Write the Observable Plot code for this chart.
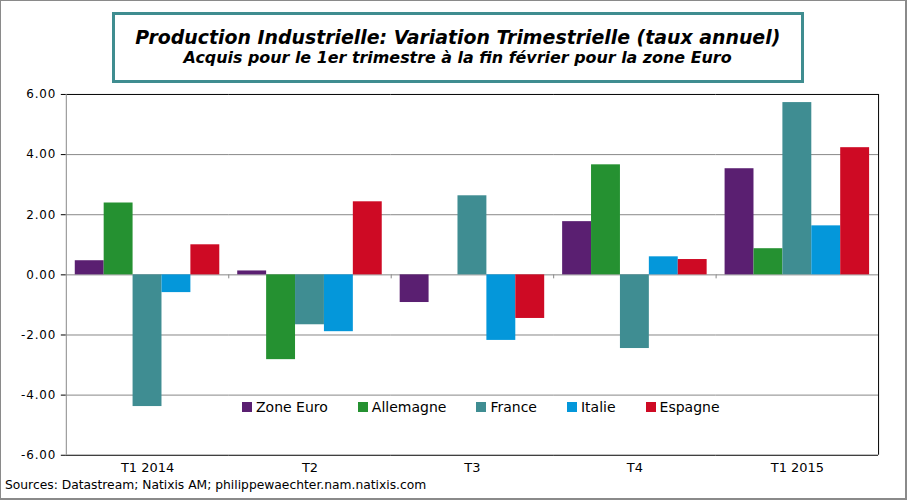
<!DOCTYPE html>
<html>
<head>
<meta charset="utf-8">
<script src="https://cdn.jsdelivr.net/npm/d3@7"></script>
<script src="https://cdn.jsdelivr.net/npm/@observablehq/plot@0.6"></script>
<style>
  body { margin: 0; background: #fff; }
  #wrap { position: relative; width: 907px; height: 500px; box-sizing: border-box; border: 1px solid #8a8a8a; border-right-width: 2px; border-bottom-width: 2px; overflow: hidden; font-family: "DejaVu Sans", Verdana, sans-serif; }
  #titlebar { height: 83px; position: relative; }
  #titlebox { position: absolute; left: 111px; top: 11px; width: 692px; height: 71px; box-sizing: border-box; border: 3px solid #3f8d90; text-align: center; font-family: "DejaVu Sans Condensed", "DejaVu Sans", sans-serif; font-style: italic; font-weight: bold; color: #000; }
  #t1 { font-size: 19px; margin-top: 10px; line-height: 24px; white-space: nowrap; }
  #t2 { font-size: 15px; margin-top: 0px; line-height: 18px; white-space: nowrap; }
  #t1 span, #t2 span { display: inline-block; transform-origin: center; }
  #legend { position: absolute; top: 398px; left: 241px; display: flex; gap: 30px; font-family: "DejaVu Sans", Verdana, sans-serif; font-size: 14px; color: #000; }
  #legend .it { display: flex; align-items: center; gap: 4px; }
  #legend .sw { width: 10px; height: 10px; display: inline-block; }
  #source { position: absolute; left: 4px; top: 477px; font-family: "DejaVu Sans", sans-serif; font-size: 12.3px; color: #000; white-space: nowrap; }
  svg [aria-label="y-axis tick"] { stroke: #888; }
  svg [aria-label="y-axis tick label"] { letter-spacing: 0.9px; }
  svg [aria-label="fx-axis tick label"] { font-size: 13px; }
</style>
</head>
<body>
<div id="wrap">
  <div id="titlebar">
    <div id="titlebox">
      <div id="t1"><span>Production Industrielle: Variation Trimestrielle (taux annuel)</span></div>
      <div id="t2"><span>Acquis pour le 1er trimestre à la fin février pour la zone Euro</span></div>
    </div>
  </div>
  <div id="chart"></div>
  <div id="legend"></div>
  <div id="source">Sources: Datastream; Natixis AM; philippewaechter.nam.natixis.com</div>
</div>
<script>
const quarters = ["T1 2014", "T2", "T3", "T4", "T1 2015"];
const countries = ["Zone Euro", "Allemagne", "France", "Italie", "Espagne"];
const colors = ["#5a1f71", "#259131", "#3f8d92", "#0497da", "#ce0a24"];
const zoneEuro  = [0.47, 0.13, -0.92, 1.77, 3.53];
const allemagne = [2.39, -2.82, 0, 3.66, 0.87];
const france    = [-4.38, -1.66, 2.63, -2.45, 5.73];
const italie    = [-0.59, -1.89, -2.18, 0.60, 1.63];
const espagne   = [1.00, 2.43, -1.45, 0.51, 4.23];
const yTicks = [-6, -4, -2, 0, 2, 4, 6];

const series = [zoneEuro, allemagne, france, italie, espagne];
const data = [];
quarters.forEach((q, i) => countries.forEach((c, j) => data.push({quarter: q, country: c, value: series[j][i]})));

const W = 907, H = 397, mL = 65, mR = 27, mT = 10, mB = 25;
const plot = Plot.plot({
  width: W, height: H,
  marginLeft: mL, marginRight: mR, marginTop: mT, marginBottom: mB,
  style: {fontFamily: "DejaVu Sans, Verdana, sans-serif", fontSize: "12px", color: "#000", background: "transparent"},
  fx: {domain: quarters, padding: 0, label: null, axis: "bottom", tickSize: 0, tickPadding: 8},
  x: {domain: countries, paddingInner: 0, paddingOuter: 0.23, axis: null},
  y: {domain: [-6, 6], ticks: yTicks, tickFormat: d => d.toFixed(2), tickSize: 5, tickPadding: 5, label: null},
  color: {domain: countries, range: colors},
  marks: [
    Plot.ruleY(yTicks.filter(d => d > -6 && d < 6), {stroke: "#888", strokeWidth: 1}),
    Plot.barY(data, {fx: "quarter", x: "country", y: "value", fill: "country"}),
    Plot.ruleY([6, -6], {stroke: "#000", strokeWidth: 1})
  ]
});
document.getElementById("chart").appendChild(plot);

// decorations: left axis line, right frame line, category tick marks on zero line
const svg = d3.select(plot);
const fx = plot.scale("fx"), y = plot.scale("y");
const y0 = y.apply(0), yTop = y.apply(6), yBot = y.apply(-6);
svg.append("line").attr("x1", mL + 0.5).attr("x2", mL + 0.5).attr("y1", yTop).attr("y2", yBot).attr("stroke", "#888");
svg.append("line").attr("x1", W - mR + 0.5).attr("x2", W - mR + 0.5).attr("y1", yTop).attr("y2", yBot).attr("stroke", "#000");
quarters.slice(1).forEach(q => {
  const xb = Math.round(fx.apply(q)) + 0.5;
  svg.append("line").attr("x1", xb).attr("x2", xb).attr("y1", y0).attr("y2", y0 + 4).attr("stroke", "#888");
});

// legend
const lg = document.getElementById("legend");
countries.forEach((c, i) => {
  const it = document.createElement("div"); it.className = "it";
  const sw = document.createElement("span"); sw.className = "sw"; sw.style.background = colors[i];
  const tx = document.createElement("span"); tx.textContent = c;
  it.appendChild(sw); it.appendChild(tx); lg.appendChild(it);
});

// fit title lines to the reference widths
function fit(sel, target) {
  const el = document.querySelector(sel);
  const w = el.getBoundingClientRect().width;
  if (w > 0) el.style.transform = `scaleX(${target / w})`;
}
fit("#t1 span", 645);
fit("#t2 span", 548);
</script>
</body>
</html>
